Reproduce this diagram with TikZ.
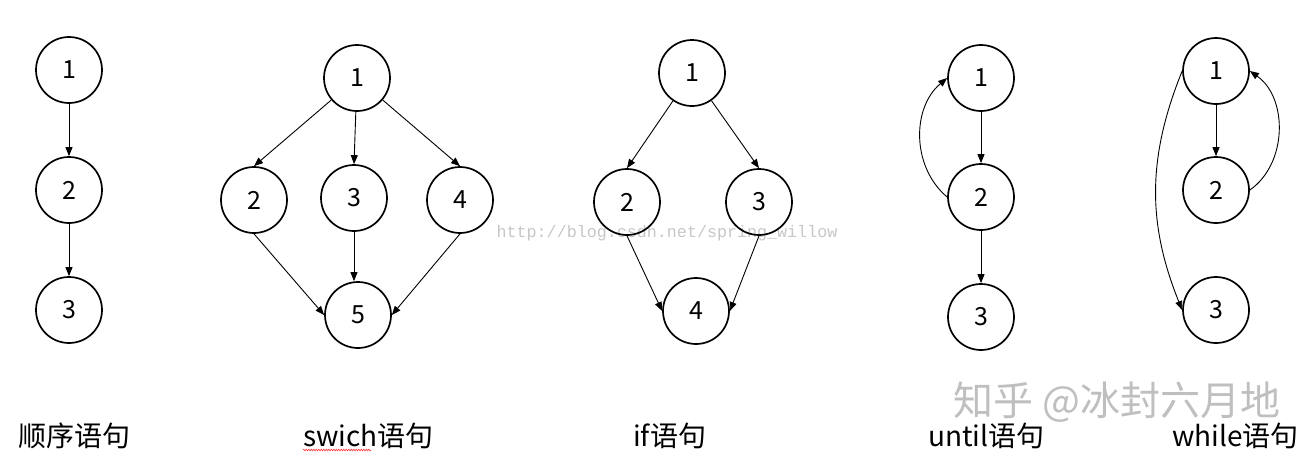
\documentclass[tikz,border=0pt]{standalone}
\usepackage{fontspec}
\setmainfont{Noto Sans CJK SC}
\setmonofont{Liberation Mono}
\usepackage{tikz}
\usetikzlibrary{arrows.meta,decorations.pathmorphing}

\begin{document}
\begin{tikzpicture}[x=1pt, y=-1pt,
  vertex/.style={draw, circle, line width=1.7pt, minimum size=66pt, inner sep=0pt,
    font=\fontsize{25}{25}\selectfont},
  arc/.style={-{Triangle[length=9pt, width=7pt]}, line width=0.9pt},
  caption/.style={anchor=base west, inner sep=0pt, font=\fontsize{28}{28}\selectfont},
  wmark/.style={inner sep=0pt, text=black!22},
]
  \useasboundingbox[fill=white] (0,0) rectangle (1309,459);

  % Watermarks
  \node[wmark, font=\ttfamily\fontsize{16.7}{16.7}\selectfont] (csdn) at (667,233)
    {http://blog.csdn.net/spring\_willow};
  \node[wmark, anchor=west, text=black!25, font=\fontsize{40}{40}\selectfont] (zhihu) at (953,402)
    {知乎 @冰封六月地};

  % Sequence
  \node[vertex] (s1) at (69,70) {1};
  \node[vertex] (s2) at (69,190) {2};
  \node[vertex] (s3) at (69,310) {3};
  \draw[arc] (s1) -- (s2);
  \draw[arc] (s2) -- (s3);

  % Switch
  \node[vertex] (w1) at (357,78) {1};
  \node[vertex] (w2) at (254,200) {2};
  \node[vertex] (w3) at (354,198) {3};
  \node[vertex] (w4) at (460,200) {4};
  \node[vertex] (w5) at (358,315) {5};
  \draw[arc] (w1) -- (w2.north);
  \draw[arc] (w1) -- (w3.north);
  \draw[arc] (w1) -- (w4.north);
  \draw[arc] (w2.south) -- (w5.west);
  \draw[arc] (w3) -- (w3 |- w5.north);
  \draw[arc] (w4.south) -- (w5.east);

  % If
  \node[vertex] (i1) at (692,73) {1};
  \node[vertex] (i2) at (627,202) {2};
  \node[vertex] (i3) at (759,202) {3};
  \node[vertex] (i4) at (696,311) {4};
  \draw[arc] (i1) -- (i2.north);
  \draw[arc] (i1) -- (i3.north);
  \draw[arc] (i2.south) -- (i4.west);
  \draw[arc] (i3.south) -- (i4.east);

  % Until
  \node[vertex] (u1) at (981,78) {1};
  \node[vertex] (u2) at (981,197) {2};
  \node[vertex] (u3) at (981,317) {3};
  \draw[arc] (u1) -- (u2);
  \draw[arc] (u2) -- (u3);
  \draw[arc] (u2.west) to[bend left=50] (u1.west);

  % While
  \node[vertex] (h1) at (1216,71) {1};
  \node[vertex] (h2) at (1216,190) {2};
  \node[vertex] (h3) at (1216,310) {3};
  \draw[arc] (h1) -- (h2);
  \draw[arc] (h1.west) to[bend right=22] (h3.west);
  \draw[arc] (h2.east) to[bend right=55] (h1.east);

  % Captions
  \node[caption] (cs) at (18,446) {顺序语句};
  \node[caption] (cw) at (303,446) {swich语句};
  \node[caption] (ci) at (633,446) {if语句};
  \node[caption] (cu) at (928,446) {until语句};
  \node[caption] (ch) at (1172,446) {while语句};
  \draw[red!80, line width=0.6pt, decorate,
    decoration={snake, amplitude=0.8pt, segment length=2.5pt}]
    ([yshift=-4pt]cw.base west) -- ++(68,0);
\end{tikzpicture}
\end{document}
